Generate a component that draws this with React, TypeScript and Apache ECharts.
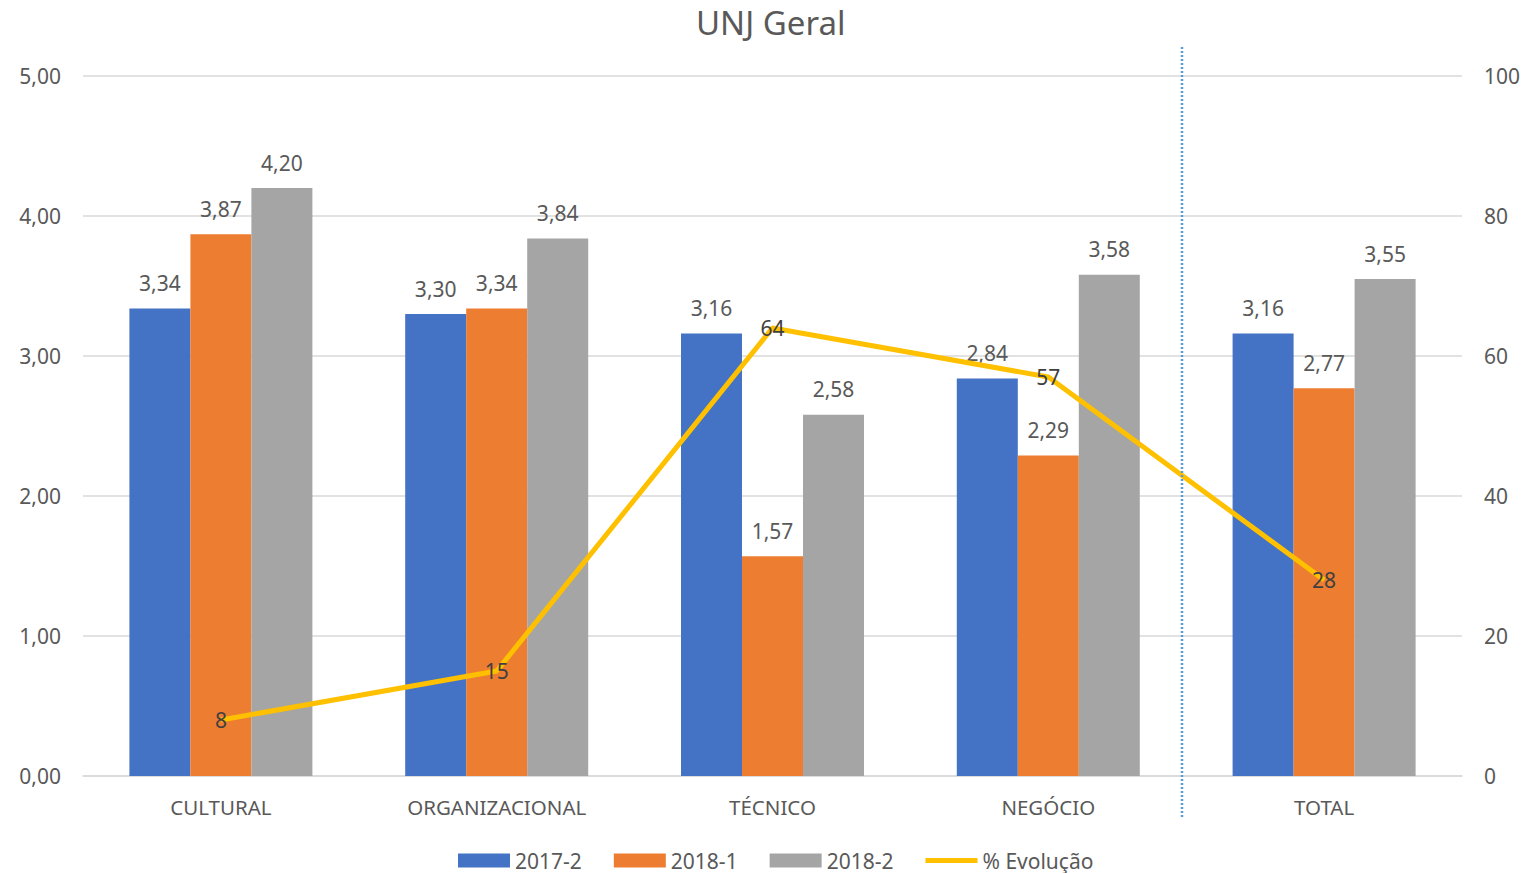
import React, { useEffect, useRef } from "react";
import * as echarts from "echarts";

const categories = ["CULTURAL", "ORGANIZACIONAL", "TÉCNICO", "NEGÓCIO", "TOTAL"];
const s2017_2 = [3.34, 3.3, 3.16, 2.84, 3.16];
const s2018_1 = [3.87, 3.34, 1.57, 2.29, 2.77];
const s2018_2 = [4.2, 3.84, 2.58, 3.58, 3.55];
const evolucao = [8, 15, 64, 57, 28];

const FONT = "Noto Sans";
const TXT = "#595959";
const fmt = (v: number) => v.toFixed(2).replace(".", ",");

export default function App() {
  const ref = useRef<HTMLDivElement>(null);
  useEffect(() => {
    if (!ref.current) return;
    const chart = echarts.init(ref.current, undefined, { renderer: "svg" });
    const barLabel = {
      show: true,
      position: "top",
      distance: 15,
      color: TXT,
      fontSize: 21,
      fontFamily: FONT,
      formatter: (p: any) => fmt(p.value),
    };
    chart.setOption({
      animation: false,
      textStyle: { fontFamily: FONT },
      title: {
        text: "UNJ Geral",
        left: 691,
        top: 1,
        textStyle: { fontSize: 33, fontWeight: "normal", color: TXT, fontFamily: FONT },
      },
      grid: { left: 83, right: 65, top: 76, bottom: 97, containLabel: false },
      legend: {
        top: 845,
        left: 453,
        itemWidth: 52,
        itemHeight: 14,
        itemGap: 32,
        textStyle: { fontSize: 21, color: TXT, fontFamily: FONT },
        data: [
          { name: "2017-2", icon: "rect" },
          { name: "2018-1", icon: "rect" },
          { name: "2018-2", icon: "rect" },
          { name: "% Evolução", icon: "path://M0,0 H52 V5 H0 Z" },
        ],
      },
      xAxis: {
        type: "category",
        data: categories,
        axisLine: { lineStyle: { color: "#D9D9D9", width: 1.5 } },
        axisTick: { show: false },
        axisLabel: { color: TXT, fontSize: 20.5, fontFamily: FONT, margin: 20 },
      },
      yAxis: [
        {
          type: "value",
          min: 0,
          max: 5,
          interval: 1,
          axisLabel: { color: TXT, fontSize: 21, fontFamily: FONT, margin: 22, formatter: fmt },
          splitLine: { lineStyle: { color: "#D9D9D9", width: 1.5 } },
          axisLine: { show: false },
          axisTick: { show: false },
        },
        {
          type: "value",
          min: 0,
          max: 100,
          interval: 20,
          axisLabel: { color: TXT, fontSize: 21, fontFamily: FONT, margin: 22 },
          splitLine: { show: false },
          axisLine: { show: false },
          axisTick: { show: false },
        },
      ],
      series: [
        {
          name: "2017-2",
          type: "bar",
          data: s2017_2,
          barWidth: 61,
          barGap: "0%",
          itemStyle: { color: "#4472C4" },
          label: barLabel,
        },
        {
          name: "2018-1",
          type: "bar",
          data: s2018_1,
          barWidth: 61,
          barGap: "0%",
          itemStyle: { color: "#ED7D31" },
          label: barLabel,
        },
        {
          name: "2018-2",
          type: "bar",
          data: s2018_2,
          barWidth: 61,
          barGap: "0%",
          itemStyle: { color: "#A5A5A5" },
          label: barLabel,
        },
        {
          name: "% Evolução",
          type: "line",
          yAxisIndex: 1,
          data: evolucao,
          symbol: "circle",
          symbolSize: 1,
          showSymbol: true,
          itemStyle: { color: "#FFC000" },
          lineStyle: { color: "#FFC000", width: 5 },
          z: 5,
          label: {
            show: true,
            position: "inside",
            color: "#404040",
            fontSize: 21,
            fontFamily: FONT,
          },
        },
      ],
      graphic: [
        {
          type: "line",
          shape: { x1: 1182, y1: 47, x2: 1182, y2: 818 },
          style: { stroke: "#5B9BD5", lineWidth: 2.5, lineDash: [2, 2] },
          z: 10,
        },
      ],
    });
    return () => chart.dispose();
  }, []);
  return (
    <div
      ref={ref}
      style={{ position: "absolute", left: 0, top: 0, width: 1527, height: 873, background: "#fff" }}
    />
  );
}
